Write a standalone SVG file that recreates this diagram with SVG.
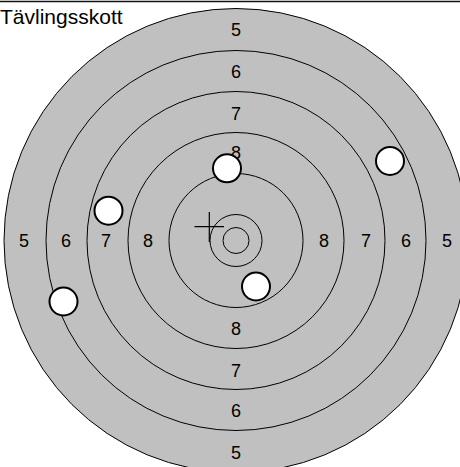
<svg xmlns="http://www.w3.org/2000/svg" width="460" height="467" viewBox="0 0 460 467">
<style>
.ring{fill:#c0c0c0;stroke:#000;stroke-width:1}
.lbl{font-family:"Liberation Sans",Arial,sans-serif;font-size:18px;fill:#000;text-anchor:middle}
.shot{fill:#fff;stroke:#000;stroke-width:2}
.cross{stroke:#000;stroke-width:1.2;fill:none}
</style>
<rect x="0" y="0" width="460" height="467" fill="#fff"/>
<g id="target">
<circle class="ring" cx="236" cy="240.5" r="232" stroke-width="1.4"/>
<circle class="ring" cx="236" cy="240.5" r="190"/>
<circle class="ring" cx="236" cy="240.5" r="149"/>
<circle class="ring" cx="236" cy="240.5" r="108"/>
<circle class="ring" cx="236" cy="240.5" r="67"/>
<circle class="ring" cx="236" cy="240.5" r="26"/>
<circle class="ring" cx="236" cy="240.5" r="13"/>
</g>
<g id="labels">
<text class="lbl" x="236" y="36">5</text>
<text class="lbl" x="236" y="78">6</text>
<text class="lbl" x="236" y="120">7</text>
<text class="lbl" x="236" y="159">8</text>
<text class="lbl" x="236" y="335">8</text>
<text class="lbl" x="236" y="377">7</text>
<text class="lbl" x="236" y="417">6</text>
<text class="lbl" x="236" y="459">5</text>
<text class="lbl" x="24" y="247">5</text>
<text class="lbl" x="66" y="247">6</text>
<text class="lbl" x="106" y="247">7</text>
<text class="lbl" x="148" y="247">8</text>
<text class="lbl" x="324" y="247">8</text>
<text class="lbl" x="366" y="247">7</text>
<text class="lbl" x="406" y="247">6</text>
<text class="lbl" x="447" y="247">5</text>
</g>
<g id="aim">
<path class="cross" d="M194.5 226.7H224M209.3 212V242"/>
</g>
<g id="shots">
<circle class="shot" cx="227" cy="168.3" r="14"/>
<circle class="shot" cx="256" cy="286.5" r="14"/>
<circle class="shot" cx="63.5" cy="301.5" r="14"/>
<circle class="shot" cx="108.5" cy="210.7" r="14"/>
<circle class="shot" cx="390" cy="161" r="14"/>
</g>
<g id="header">
<line x1="0" y1="1.5" x2="460" y2="1.5" stroke="#111" stroke-width="1.4"/>
<text x="0" y="24" font-family="'Liberation Sans',Arial,sans-serif" font-size="21" fill="#000">Tävlingsskott</text>
</g>
</svg>
